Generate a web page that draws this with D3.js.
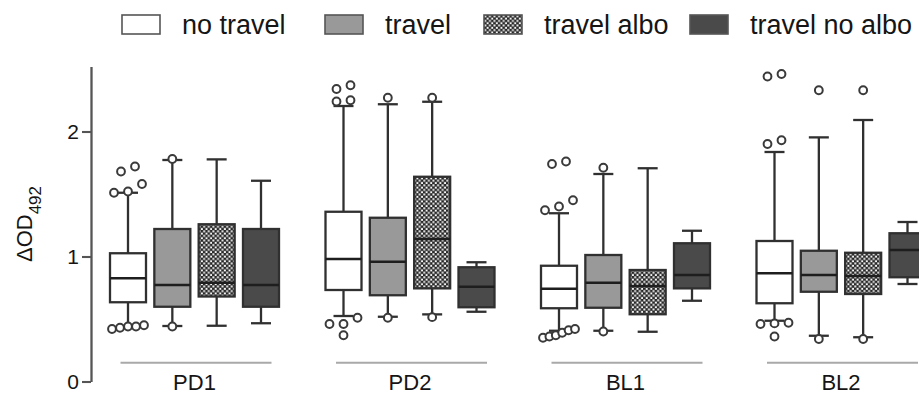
<!DOCTYPE html>
<html>
<head>
<meta charset="utf-8">
<script src="https://cdn.jsdelivr.net/npm/d3@7/dist/d3.min.js"></script>
<style>
  html, body { margin: 0; padding: 0; background: #fff; }
  svg { display: block; font-family: "Liberation Sans", Arial, Helvetica, sans-serif; }
</style>
</head>
<body>
<svg id="chart" width="919" height="394"></svg>
<script>
// Sites and groups
const categories = ["PD1", "PD2", "BL1", "BL2"];
const series = ["no travel", "travel", "travel albo", "travel no albo"];

// Box summaries per site: [lower whisker, Q1, median, Q3, upper whisker]
const noTravel = [
  [0.440, 0.634, 0.826, 1.026, 1.510],
  [0.524, 0.732, 0.980, 1.358, 2.204],
  [0.406, 0.586, 0.742, 0.926, 1.346],
  [0.486, 0.626, 0.866, 1.124, 1.836]
];
const travel = [
  [0.444, 0.598, 0.772, 1.220, 1.772],
  [0.518, 0.690, 0.958, 1.310, 2.218],
  [0.406, 0.590, 0.790, 1.012, 1.660],
  [0.366, 0.718, 0.852, 1.046, 1.953]
];
const travelAlbo = [
  [0.446, 0.680, 0.790, 1.258, 1.777],
  [0.537, 0.745, 1.140, 1.638, 2.238],
  [0.398, 0.538, 0.764, 0.892, 1.706],
  [0.354, 0.700, 0.844, 1.030, 2.092]
];
const travelNoAlbo = [
  [0.466, 0.598, 0.772, 1.220, 1.606],
  [0.558, 0.594, 0.758, 0.914, 0.954],
  [0.646, 0.745, 0.852, 1.106, 1.206],
  [0.780, 0.834, 1.052, 1.186, 1.276]
];

// Outlying values per site
const noTravelOutliers = [
  [1.72, 1.68, 1.58, 1.52, 1.51, 0.45, 0.44, 0.44, 0.43, 0.42],
  [2.37, 2.34, 2.25, 2.24, 0.51, 0.46, 0.46, 0.37],
  [1.76, 1.74, 1.45, 1.40, 1.37, 0.42, 0.41, 0.39, 0.37, 0.36, 0.35],
  [2.46, 2.44, 1.93, 1.90, 0.47, 0.465, 0.46, 0.36]
];
const travelOutliers = [[1.78, 0.44], [2.27, 0.51], [1.71, 0.40], [2.33, 0.34]];
const travelAlboOutliers = [[], [2.27, 0.515], [], [2.33, 0.34]];
const travelNoAlboOutliers = [[], [], [], []];

const yTicks = [0, 1, 2];

const boxes = [noTravel, travel, travelAlbo, travelNoAlbo];
const outliers = [noTravelOutliers, travelOutliers, travelAlboOutliers, travelNoAlboOutliers];

const svg = d3.select("#chart");

// Checkered fill for the "travel albo" group
const defs = svg.append("defs");
const pat = defs.append("pattern")
  .attr("id", "checker")
  .attr("patternUnits", "userSpaceOnUse")
  .attr("width", 4.6).attr("height", 4.6);
pat.append("rect").attr("width", 4.6).attr("height", 4.6).attr("fill", "#262626");
pat.append("rect").attr("x", 0.3).attr("y", 0.3).attr("width", 2).attr("height", 2).attr("fill", "#f4f4f4");
pat.append("rect").attr("x", 2.6).attr("y", 2.6).attr("width", 2).attr("height", 2).attr("fill", "#f4f4f4");

const fills = d3.scaleOrdinal()
  .domain(series)
  .range(["#ffffff", "#999999", "url(#checker)", "#4a4a4a"]);

const strokeCol = "#303030";
const textCol = "#151515";

// Scales
const y = d3.scaleLinear().domain([0, 2.52]).range([381.5, 66.5]);
const xGroup = d3.scaleBand().domain(categories).range([86.75, 948.75]);
const xInner = d3.scalePoint().domain(series).range([-66.5, 66.5]);
const boxW = 36, capW = 20, r = 3.9;

// Y axis
const yAxis = d3.axisLeft(y).tickValues(yTicks).tickFormat(d3.format("d"))
  .tickSize(9).tickSizeOuter(0).tickPadding(3);
const gy = svg.append("g").attr("transform", "translate(91,0)").call(yAxis);
gy.select(".domain").attr("stroke", "#555").attr("stroke-width", 2.3);
gy.selectAll(".tick line").attr("stroke", "#555").attr("stroke-width", 2.1);
gy.selectAll(".tick text").attr("fill", textCol).attr("font-size", 21)
  .attr("font-family", "Liberation Sans, Arial, sans-serif");

// Y label
const yl = svg.append("text")
  .attr("transform", "translate(32,224) rotate(-90)")
  .attr("text-anchor", "middle")
  .attr("fill", textCol)
  .attr("font-size", 22);
yl.append("tspan").text("ΔOD");
yl.append("tspan").attr("dy", 9).attr("font-size", 17).text("492");

// Group baselines and labels
const groups = svg.append("g").selectAll("g").data(categories).join("g")
  .attr("transform", d => `translate(${xGroup(d) + xGroup.bandwidth() / 2},0)`);
groups.append("line")
  .attr("x1", -74).attr("x2", 77)
  .attr("y1", 362.7).attr("y2", 362.7)
  .attr("stroke", "#a9a9a9").attr("stroke-width", 2);
groups.append("text")
  .attr("x", 0).attr("y", 390)
  .attr("text-anchor", "middle")
  .attr("font-size", 22).attr("fill", textCol)
  .text(d => d);

// Lay out outliers: clusters of nearby values sit side by side
function placeOutliers(vals) {
  const sorted = vals.slice().sort((a, b) => a - b);
  const clusters = [];
  sorted.forEach(v => {
    const last = clusters[clusters.length - 1];
    if (last && Math.abs(y(v) - y(last[last.length - 1])) < 8) last.push(v);
    else clusters.push([v]);
  });
  const pts = [];
  clusters.forEach(c => {
    const n = c.length;
    const step = n > 1 ? Math.min(14, 32 / (n - 1)) : 0;
    c.forEach((v, i) => pts.push({ v, dx: (i - (n - 1) / 2) * step }));
  });
  return pts;
}

// Boxes
categories.forEach((cat, ci) => {
  const cx0 = xGroup(cat) + xGroup.bandwidth() / 2;
  series.forEach((s, si) => {
    const [lo, q1, med, q3, hi] = boxes[si][ci];
    const cx = cx0 + xInner(s);
    const g = svg.append("g").attr("transform", `translate(${cx},0)`);
    const sw = 2.3;
    // whiskers
    g.append("line").attr("x1", 0).attr("x2", 0).attr("y1", y(hi)).attr("y2", y(q3))
      .attr("stroke", strokeCol).attr("stroke-width", sw);
    g.append("line").attr("x1", 0).attr("x2", 0).attr("y1", y(q1)).attr("y2", y(lo))
      .attr("stroke", strokeCol).attr("stroke-width", sw);
    g.append("line").attr("x1", -capW / 2).attr("x2", capW / 2).attr("y1", y(hi)).attr("y2", y(hi))
      .attr("stroke", strokeCol).attr("stroke-width", sw);
    g.append("line").attr("x1", -capW / 2).attr("x2", capW / 2).attr("y1", y(lo)).attr("y2", y(lo))
      .attr("stroke", strokeCol).attr("stroke-width", sw);
    // box
    g.append("rect")
      .attr("x", -boxW / 2).attr("width", boxW)
      .attr("y", y(q3)).attr("height", y(q1) - y(q3))
      .attr("fill", fills(s))
      .attr("stroke", strokeCol).attr("stroke-width", sw);
    // median
    g.append("line").attr("x1", -boxW / 2).attr("x2", boxW / 2).attr("y1", y(med)).attr("y2", y(med))
      .attr("stroke", "#1e1e1e").attr("stroke-width", 2.4);
    // outliers
    g.selectAll("circle").data(placeOutliers(outliers[si][ci])).join("circle")
      .attr("cx", d => d.dx).attr("cy", d => y(d.v)).attr("r", r)
      .attr("fill", "#fff").attr("stroke", "#3a3a3a").attr("stroke-width", 2);
  });
});

// Legend
const legendX = [122, 325, 484, 690];
const legend = svg.append("g").selectAll("g").data(series).join("g")
  .attr("transform", (d, i) => `translate(${legendX[i]},15)`);
legend.append("rect")
  .attr("width", 38).attr("height", 19)
  .attr("fill", d => fills(d))
  .attr("stroke", "#555").attr("stroke-width", 1.6);
legend.append("text")
  .attr("x", 60).attr("y", 19)
  .attr("font-size", 27).attr("fill", textCol)
  .text(d => d);
</script>
</body>
</html>
